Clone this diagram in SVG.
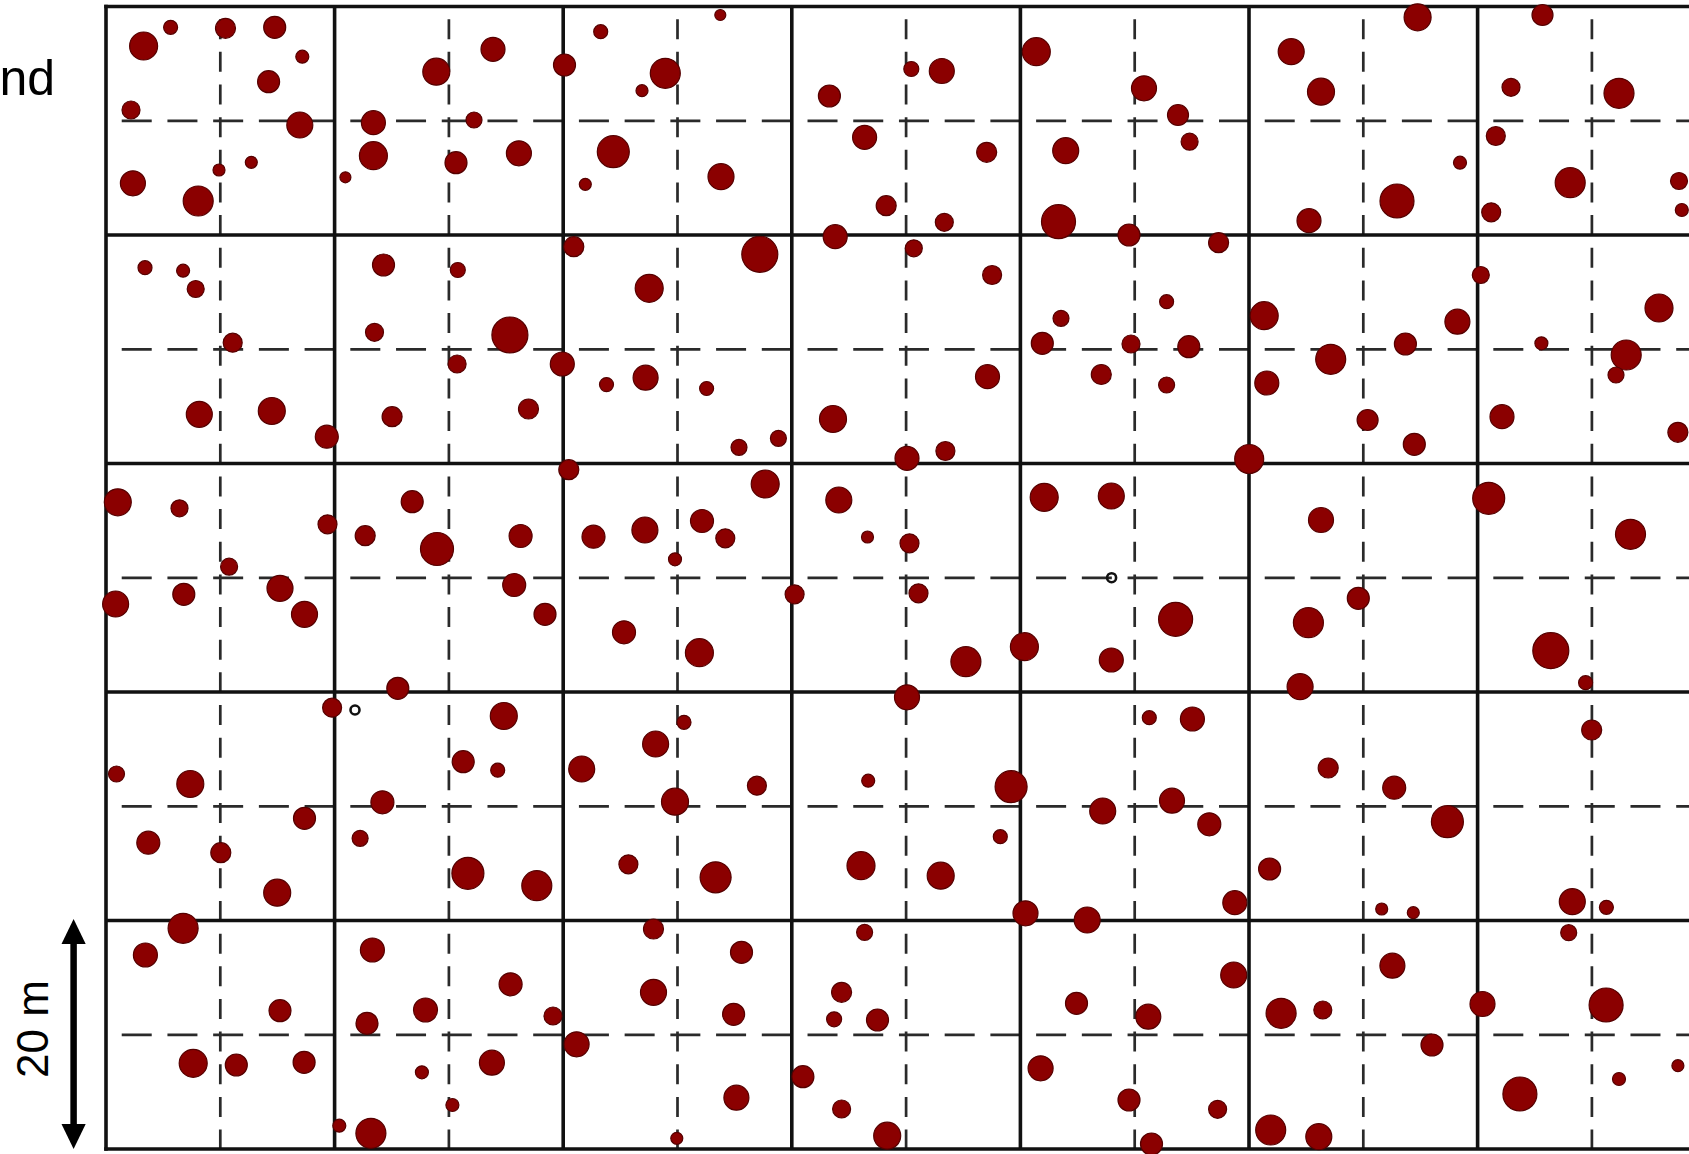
<svg xmlns="http://www.w3.org/2000/svg" width="1689" height="1154" viewBox="0 0 1689 1154">
<style>
.s{stroke:#111;stroke-width:3.6;fill:none}
.dh{stroke:#2a2a2a;stroke-width:2.7;fill:none;stroke-dasharray:30 15.72;stroke-dashoffset:30}
.dv{stroke:#2a2a2a;stroke-width:2.7;fill:none;stroke-dasharray:20 12.66;stroke-dashoffset:20}
.t circle{fill:#8b0000;stroke:#550000;stroke-width:1.2}
.h{fill:none;stroke:#111;stroke-width:2.6}
.lbl{font-family:"Liberation Sans",Arial,sans-serif;fill:#000}
</style>
<rect width="1689" height="1154" fill="#fff"/>
<g id="grid-dashed">
<line class="dv" x1="220.3" y1="6.5" x2="220.3" y2="1149"/>
<line class="dv" x1="448.9" y1="6.5" x2="448.9" y2="1149"/>
<line class="dv" x1="677.5" y1="6.5" x2="677.5" y2="1149"/>
<line class="dv" x1="906.1" y1="6.5" x2="906.1" y2="1149"/>
<line class="dv" x1="1134.7" y1="6.5" x2="1134.7" y2="1149"/>
<line class="dv" x1="1363.3" y1="6.5" x2="1363.3" y2="1149"/>
<line class="dv" x1="1591.9" y1="6.5" x2="1591.9" y2="1149"/>
<line class="dh" x1="106" y1="120.8" x2="1689" y2="120.8"/>
<line class="dh" x1="106" y1="349.3" x2="1689" y2="349.3"/>
<line class="dh" x1="106" y1="577.8" x2="1689" y2="577.8"/>
<line class="dh" x1="106" y1="806.3" x2="1689" y2="806.3"/>
<line class="dh" x1="106" y1="1034.8" x2="1689" y2="1034.8"/>
</g>
<g id="grid-solid">
<line class="s" x1="106" y1="4.7" x2="106" y2="1150.8"/>
<line class="s" x1="334.6" y1="6.5" x2="334.6" y2="1149"/>
<line class="s" x1="563.2" y1="6.5" x2="563.2" y2="1149"/>
<line class="s" x1="791.8" y1="6.5" x2="791.8" y2="1149"/>
<line class="s" x1="1020.4" y1="6.5" x2="1020.4" y2="1149"/>
<line class="s" x1="1249" y1="6.5" x2="1249" y2="1149"/>
<line class="s" x1="1477.6" y1="6.5" x2="1477.6" y2="1149"/>
<line class="s" x1="104.2" y1="6.5" x2="1689" y2="6.5"/>
<line class="s" x1="106" y1="235" x2="1689" y2="235"/>
<line class="s" x1="106" y1="463.5" x2="1689" y2="463.5"/>
<line class="s" x1="106" y1="692" x2="1689" y2="692"/>
<line class="s" x1="106" y1="920.5" x2="1689" y2="920.5"/>
<line class="s" x1="104.2" y1="1149" x2="1689" y2="1149"/>
</g>
<g id="trees" class="t">
<circle cx="143.6" cy="46" r="14"/><circle cx="170.6" cy="27.3" r="7"/><circle cx="225.5" cy="28.3" r="10"/><circle cx="274.7" cy="27.3" r="11"/><circle cx="302.3" cy="56.7" r="6.5"/><circle cx="268.6" cy="81.7" r="11"/><circle cx="131" cy="110" r="9"/><circle cx="299.8" cy="125" r="13"/><circle cx="251.3" cy="162.3" r="6"/><circle cx="219" cy="170" r="6"/><circle cx="132.9" cy="183.3" r="12.5"/><circle cx="198.2" cy="201" r="15"/>
<circle cx="436.3" cy="71.7" r="13.5"/><circle cx="493" cy="49.3" r="12"/><circle cx="564.5" cy="65" r="11"/><circle cx="373.4" cy="122.7" r="12"/><circle cx="474" cy="120" r="8"/><circle cx="373.4" cy="155.7" r="14"/><circle cx="456" cy="162.7" r="11"/><circle cx="518.9" cy="153.3" r="12.5"/><circle cx="345.4" cy="177.3" r="5.5"/>
<circle cx="600.7" cy="31.7" r="7"/><circle cx="720.3" cy="15" r="5.5"/><circle cx="665.3" cy="73.3" r="15"/><circle cx="642" cy="90.7" r="6"/><circle cx="613.3" cy="151.7" r="16"/><circle cx="585.3" cy="184.3" r="6"/><circle cx="721" cy="176.7" r="13"/>
<circle cx="829.4" cy="96" r="11"/><circle cx="911.3" cy="69" r="7.5"/><circle cx="941.8" cy="71" r="12.5"/><circle cx="864.6" cy="137.3" r="12"/><circle cx="986.7" cy="152.3" r="10"/><circle cx="886.2" cy="205.7" r="10"/><circle cx="944.3" cy="222.3" r="9"/><circle cx="835.2" cy="236.7" r="12"/>
<circle cx="1036.3" cy="51.7" r="14"/><circle cx="1065.7" cy="150.7" r="13"/><circle cx="1058.5" cy="221.7" r="17"/><circle cx="1129" cy="235" r="11"/><circle cx="1144" cy="88.3" r="12.5"/><circle cx="1178" cy="115" r="10.5"/><circle cx="1189.6" cy="141.7" r="8.5"/>
<circle cx="1291.2" cy="51.7" r="13"/><circle cx="1321" cy="91.7" r="13.5"/><circle cx="1417.6" cy="17.3" r="13.5"/><circle cx="1460" cy="162.7" r="6.5"/><circle cx="1397" cy="201" r="17"/><circle cx="1309" cy="220.7" r="12"/><circle cx="1218.6" cy="242.7" r="10"/>
<circle cx="1542.5" cy="15" r="10.5"/><circle cx="1511" cy="87.3" r="9"/><circle cx="1619" cy="93.3" r="15"/><circle cx="1495.8" cy="136" r="9.5"/><circle cx="1570.2" cy="182.7" r="15"/><circle cx="1679" cy="181" r="8.5"/><circle cx="1681.8" cy="210" r="6.5"/><circle cx="1491.2" cy="212.3" r="9.5"/>
<circle cx="145" cy="267.7" r="7"/><circle cx="183.1" cy="270.7" r="6.5"/><circle cx="195.7" cy="289" r="8.5"/><circle cx="232.7" cy="342.7" r="9.5"/><circle cx="383.5" cy="265" r="11"/><circle cx="457.8" cy="270" r="7.5"/><circle cx="374.5" cy="332.3" r="9"/><circle cx="509.9" cy="335" r="18"/><circle cx="457.1" cy="364" r="9"/><circle cx="562.3" cy="364" r="12"/>
<circle cx="573.8" cy="246.7" r="10"/><circle cx="759.8" cy="254.3" r="18"/><circle cx="649.2" cy="288.3" r="14"/><circle cx="913.8" cy="248.3" r="8.5"/><circle cx="992.1" cy="275" r="9.5"/><circle cx="1061" cy="318.3" r="8"/><circle cx="1042.3" cy="343.3" r="11"/><circle cx="645.6" cy="377.7" r="12.5"/><circle cx="606.5" cy="384.6" r="7"/><circle cx="706.6" cy="388.5" r="7"/><circle cx="987.5" cy="376.7" r="12"/><circle cx="1101.3" cy="374.5" r="10"/>
<circle cx="1166.6" cy="301.7" r="7"/><circle cx="1480.8" cy="275" r="8.5"/><circle cx="1264.2" cy="315.7" r="14"/><circle cx="1457.4" cy="321.7" r="12.5"/><circle cx="1405.4" cy="344" r="11"/><circle cx="1131" cy="344" r="9"/><circle cx="1188.8" cy="346.7" r="11"/><circle cx="1330.7" cy="359.3" r="15"/><circle cx="1541.4" cy="343.3" r="6.5"/><circle cx="1626.2" cy="355" r="15"/><circle cx="1616" cy="375" r="8"/><circle cx="1166.6" cy="385" r="8"/><circle cx="1266.8" cy="383" r="12"/><circle cx="1659" cy="308" r="14"/>
<circle cx="199.3" cy="414.3" r="13"/><circle cx="271.8" cy="411" r="13.5"/><circle cx="326.8" cy="436.7" r="11.5"/><circle cx="392.1" cy="416.7" r="10"/><circle cx="528.5" cy="409" r="10"/>
<circle cx="833" cy="419" r="13.5"/><circle cx="739" cy="447.3" r="8"/><circle cx="778.4" cy="438.3" r="8"/><circle cx="907" cy="458.3" r="12"/><circle cx="945.4" cy="451" r="9.5"/>
<circle cx="1367.6" cy="420" r="10.5"/><circle cx="1414.3" cy="444.3" r="11"/><circle cx="1502" cy="416.7" r="12"/><circle cx="1677.9" cy="432.3" r="10"/><circle cx="1249.2" cy="459" r="14.5"/>
<circle cx="117.8" cy="502.3" r="13.5"/><circle cx="179.5" cy="508.3" r="8.5"/><circle cx="327.5" cy="524.3" r="9.5"/><circle cx="229.1" cy="566.7" r="8.5"/><circle cx="183.8" cy="594.3" r="11"/><circle cx="115.6" cy="604" r="13"/><circle cx="280" cy="588.3" r="13"/><circle cx="304.5" cy="614.3" r="13"/><circle cx="412.2" cy="501.7" r="11"/><circle cx="365.2" cy="535.7" r="10"/><circle cx="437" cy="549" r="16.5"/><circle cx="520.6" cy="536" r="11.5"/><circle cx="514.2" cy="585" r="11.5"/><circle cx="545" cy="614.3" r="11"/><circle cx="397.8" cy="688.3" r="11"/><circle cx="332.1" cy="707.7" r="9.5"/><circle cx="503.8" cy="716" r="13.5"/><circle cx="568.8" cy="469.7" r="10"/>
<circle cx="765.2" cy="484" r="14"/><circle cx="593.5" cy="536.7" r="11.5"/><circle cx="644.9" cy="530" r="13"/><circle cx="702" cy="521" r="11.5"/><circle cx="725.3" cy="538.3" r="9.5"/><circle cx="675" cy="559.3" r="6.5"/><circle cx="624" cy="632.3" r="11.5"/><circle cx="699.4" cy="652.7" r="14"/><circle cx="794.6" cy="594.3" r="9.5"/><circle cx="838.8" cy="500" r="13"/><circle cx="867.5" cy="537" r="6"/><circle cx="909.5" cy="543.3" r="9.5"/><circle cx="918.5" cy="593.3" r="9.5"/><circle cx="965.9" cy="661.7" r="15"/><circle cx="1024.4" cy="646.7" r="14"/><circle cx="907" cy="697.3" r="12.5"/><circle cx="1044.2" cy="497.3" r="14"/><circle cx="1111.3" cy="496" r="13"/><circle cx="1111.3" cy="660" r="12"/>
<circle cx="1321" cy="520" r="12.5"/><circle cx="1488.7" cy="498.3" r="16"/><circle cx="1630.5" cy="534.3" r="15"/><circle cx="1175.6" cy="619.3" r="17"/><circle cx="1308.4" cy="622.7" r="15"/><circle cx="1358.3" cy="598.3" r="11"/><circle cx="1550.8" cy="650.7" r="18"/><circle cx="1585.6" cy="682.7" r="7"/><circle cx="1300.1" cy="686.7" r="13"/>
<circle cx="116.5" cy="774" r="8"/><circle cx="190.3" cy="784" r="13.5"/><circle cx="304.5" cy="818.3" r="11"/><circle cx="148.3" cy="842.7" r="11.5"/><circle cx="220.8" cy="852.7" r="10"/><circle cx="277.2" cy="892.7" r="13.5"/><circle cx="382.4" cy="802.3" r="11.5"/><circle cx="360.1" cy="838.3" r="8"/><circle cx="467.9" cy="873.3" r="16"/><circle cx="536.8" cy="885.7" r="15"/><circle cx="463.2" cy="761.7" r="11"/><circle cx="497.7" cy="770.2" r="7"/>
<circle cx="684" cy="722.3" r="7"/><circle cx="655.6" cy="744" r="13"/><circle cx="581.7" cy="769" r="13"/><circle cx="675" cy="801.7" r="13.5"/><circle cx="756.9" cy="785.7" r="9.5"/><circle cx="628.4" cy="864.3" r="9.5"/><circle cx="715.6" cy="877.3" r="15.5"/><circle cx="868.2" cy="780.7" r="6.5"/><circle cx="1011.1" cy="786.7" r="16"/><circle cx="1000.3" cy="836.7" r="7"/><circle cx="861" cy="865.7" r="14"/><circle cx="940.7" cy="875.7" r="13.5"/><circle cx="1102.7" cy="811" r="13"/><circle cx="1025.5" cy="913.3" r="12.5"/><circle cx="1087.2" cy="920" r="13"/>
<circle cx="1149.3" cy="717.7" r="7"/><circle cx="1192.4" cy="719" r="12"/><circle cx="1591.7" cy="730" r="10"/><circle cx="1328.2" cy="768" r="10"/><circle cx="1172" cy="800.7" r="12.5"/><circle cx="1209.3" cy="824.3" r="11.5"/><circle cx="1234.8" cy="902.7" r="12"/><circle cx="1394.2" cy="787.7" r="11.5"/><circle cx="1447.4" cy="821.7" r="16"/><circle cx="1269.6" cy="869" r="11"/><circle cx="1381.7" cy="909" r="6"/><circle cx="1413.3" cy="912.7" r="6"/><circle cx="1572.3" cy="901.7" r="13"/><circle cx="1606.4" cy="907.3" r="7"/><circle cx="1568.7" cy="932.7" r="8"/>
<circle cx="183.1" cy="928.3" r="15"/><circle cx="145.4" cy="955" r="12"/><circle cx="280" cy="1010.7" r="11"/><circle cx="193.2" cy="1063.3" r="14"/><circle cx="236.3" cy="1065" r="11"/><circle cx="304.1" cy="1062.3" r="11"/><circle cx="372.4" cy="950" r="12"/><circle cx="425.5" cy="1010" r="12"/><circle cx="367" cy="1023.3" r="11"/><circle cx="510.6" cy="984.3" r="11.5"/><circle cx="553" cy="1016" r="9"/><circle cx="491.9" cy="1062.7" r="12.5"/><circle cx="421.9" cy="1072.3" r="6.5"/><circle cx="452.4" cy="1105" r="6.5"/><circle cx="339.3" cy="1125.7" r="6.5"/><circle cx="370.9" cy="1133.3" r="15"/>
<circle cx="653.5" cy="929" r="10"/><circle cx="741.5" cy="952.3" r="11"/><circle cx="653.5" cy="992.3" r="13"/><circle cx="733.6" cy="1014.3" r="11"/><circle cx="576.6" cy="1044.3" r="12.5"/><circle cx="736.4" cy="1097.7" r="12.5"/><circle cx="676.8" cy="1138.3" r="6"/><circle cx="864.6" cy="932.3" r="8"/><circle cx="841.6" cy="992.3" r="10"/><circle cx="834.1" cy="1019.3" r="7.5"/><circle cx="877.5" cy="1020" r="11"/><circle cx="802.9" cy="1076.7" r="11"/><circle cx="841.6" cy="1109" r="9"/><circle cx="887.2" cy="1135.7" r="13.5"/><circle cx="1076.5" cy="1003.3" r="11"/><circle cx="1040.6" cy="1068.3" r="12.5"/><circle cx="1129" cy="1100" r="11"/>
<circle cx="1233.7" cy="975" r="13"/><circle cx="1148.3" cy="1016.7" r="12.5"/><circle cx="1281.1" cy="1013.3" r="15"/><circle cx="1322.8" cy="1010" r="9"/><circle cx="1392.4" cy="965.7" r="12.5"/><circle cx="1432" cy="1045" r="11"/><circle cx="1482.5" cy="1004" r="12.5"/><circle cx="1606.1" cy="1005" r="17"/><circle cx="1519.9" cy="1094" r="17"/><circle cx="1619" cy="1079" r="6.5"/><circle cx="1677.9" cy="1065.7" r="6"/><circle cx="1217.6" cy="1109.3" r="9"/><circle cx="1151.5" cy="1144" r="11"/><circle cx="1270.7" cy="1130" r="15"/><circle cx="1318.8" cy="1136.7" r="13"/>
</g>
<g id="hollow-markers">
<circle class="h" cx="355" cy="710" r="4.5"/>
<circle class="h" cx="1111.6" cy="577.7" r="4.5"/>
</g>
<g id="scale-bar">
<line x1="73.6" y1="940" x2="73.6" y2="1128" stroke="#000" stroke-width="6.5"/>
<polygon points="73.6,919 61.5,944 85.7,944" fill="#000"/>
<polygon points="73.6,1149 61.5,1124 85.7,1124" fill="#000"/>
<text class="lbl" font-size="44" text-anchor="middle" transform="translate(48,1029) rotate(-90)">20 m</text>
</g>
<g id="label">
<text class="lbl" font-size="50" text-anchor="end" x="55" y="95">nd</text>
</g>
</svg>
